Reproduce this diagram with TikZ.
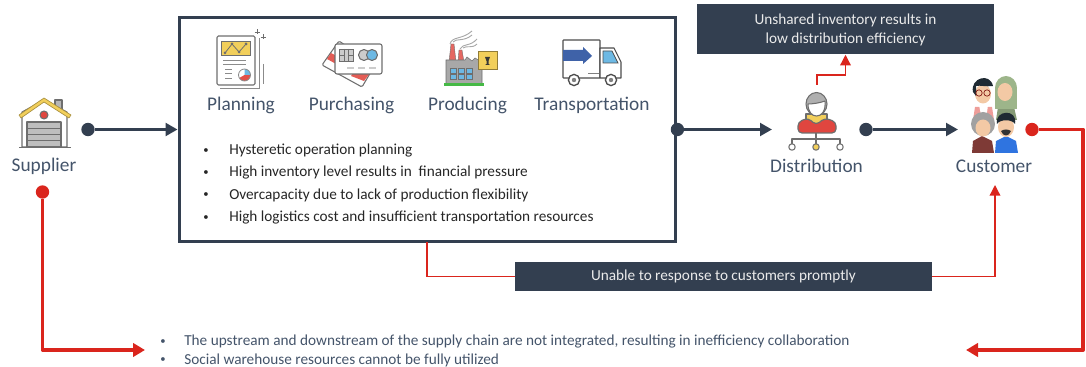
\documentclass[tikz,border=0pt]{standalone}
\usepackage{fontspec}
\setmainfont{Carlito}
\usetikzlibrary{arrows.meta,calc,positioning}
\definecolor{navy}{HTML}{333F50}
\definecolor{slate}{HTML}{44546A}
\definecolor{alarm}{HTML}{DA251D}
\definecolor{iconline}{HTML}{6E6E6E}
\definecolor{sand}{HTML}{F2CF5B}
\definecolor{sky}{HTML}{6DB9E4}
\definecolor{skin}{HTML}{F3C9A5}
\definecolor{truckblue}{HTML}{3F62A8}
\definecolor{sage}{HTML}{9DB58A}
\definecolor{maroon}{HTML}{7E3A36}
\definecolor{shirtblue}{HTML}{2F74E0}
\definecolor{hairdark}{HTML}{1F2A33}
\tikzset{
  label/.style={text=slate,font=\fontsize{14.5}{16}\selectfont,inner sep=0pt},
  bullet/.style={anchor=west,text=black!85,font=\fontsize{11.45}{13}\selectfont,inner sep=0pt},
  note/.style={anchor=west,text=slate,font=\fontsize{11.45}{13}\selectfont,inner sep=0pt},
  banner/.style={fill=navy,text=white!92!black,align=center,inner sep=0pt,font=\fontsize{11.45}{14.2}\selectfont},
  flow/.style={navy,line width=2.6pt,-{Triangle[length=9pt,width=9.5pt]}},
  fault/.style={alarm,line width=2.9pt,line join=round,-{Triangle[length=9pt,width=10pt]}},
  link/.style={alarm,line width=1pt,-{Triangle[length=8pt,width=8pt]}},
  navydot/.style={circle,fill=navy,minimum size=10pt,inner sep=0pt},
  reddot/.style={circle,fill=alarm,minimum size=10pt,inner sep=0pt},
  icon/.style={draw=iconline,line width=0.8pt,line join=round},
  thinicon/.style={draw=iconline!80,line width=0.6pt}
}
\begin{document}
\begin{tikzpicture}[x=0.75pt,y=-0.75pt]
  \useasboundingbox (0,0) rectangle (1086,367);

  \node[draw=navy,line width=2.4pt,minimum width=372.5pt,minimum height=168.5pt,inner sep=0pt] (main) at (427.5,129.5) {};

  \node[label] (supplier) at (44,166) {Supplier};
  \node[label] (planning) at (241,105) {Planning};
  \node[label] (purchasing) at (351.5,105) {Purchasing};
  \node[label] (producing) at (467.5,105) {Producing};
  \node[label] (transportation) at (592,105) {Transportation};
  \node[label] (distribution) at (816.5,166) {Distribution};
  \node[label] (customer) at (994,166) {Customer};

  \foreach \y/\t in {151/Hysteretic operation planning,
                     173/High inventory level results in \ financial pressure,
                     195/Overcapacity due to lack of production flexibility,
                     218/High logistics cost and insufficient transportation resources}
  {
    \node[bullet,font=\fontsize{8}{9}\selectfont] at (203,\y) {•};
    \node[bullet] at (229,\y) {\t};
  }
  \node[note,font=\fontsize{8}{9}\selectfont] at (160,342) {•};
  \node[note] (bottoma) at (184,342) {The upstream and downstream of the supply chain are not integrated, resulting in inefficiency collaboration};
  \node[note,font=\fontsize{8}{9}\selectfont] at (160,360) {•};
  \node[note] (bottomb) at (184,360.5) {Social warehouse resources cannot be fully utilized};

  \node[banner,minimum width=222.75pt,minimum height=37.5pt] (shared) at (845.5,29.5) {Unshared inventory results in\\low distribution efficiency};
  \node[banner,minimum width=312.75pt,minimum height=22pt] (delay) at (723.5,276.5) {Unable to response to customers promptly};

  % ends of the connectors
  \node[navydot] (supout) at (88,129.5) {};
  \node[navydot] (mainout) at (main.east) {};
  \node[navydot] (distout) at (866,129.5) {};
  \node[reddot] (custout) at (1032,129.5) {};
  \node[reddot] (supdown) at (42.5,192) {};
  \coordinate (distin) at (772,129.5);
  \coordinate (custin) at (958,129.5);
  \coordinate (distup) at (817,85);
  \coordinate (mainbrk) at (427,242);
  \coordinate (custup) at (995,185);
  \coordinate (notesleft) at (145,350);
  \coordinate (notesright) at (966,350);

  \draw[flow] (supout) -- (main.west);
  \draw[flow] (mainout) -- (distin);
  \draw[flow] (distout) -- (custin);
  \draw[fault] (supdown) |- (notesleft);
  \draw[fault] (custout) -- (1083,129.5) |- (notesright);
  \draw[link] (distup) -- ++(0,-10) -| (shared.south);
  \draw[alarm,line width=1pt] (mainbrk) |- (delay.west);
  \draw[link] (delay.east) -| (custup);

  % supplier icon
  \draw[icon,fill=iconline!50] (55,100) rectangle (62,110);
  \draw[icon,fill=white] (22,112) -- (22,147) -- (67,147) -- (67,112) -- (44,100) -- cycle;
  \draw[draw=sand!70!black,fill=sand,line width=0.5pt,line join=round] (19,115) -- (44,98) -- (71,115) -- (69,118) -- (44,102) -- (21,118) -- cycle;
  \draw[icon,fill=alarm!85] (44,115) circle (4);
  \draw[icon,fill=iconline!45] (27,122) rectangle (61,147);
  \foreach \y in {128,134,140}
    \draw[icon,line width=0.5pt] (27,\y) -- (61,\y);
  \draw[icon] (19,147.5) -- (71,147.5);

  % planning icon
  \draw[thinicon] (220,88) -- (259,88) -- (259,38);
  \draw[thinicon] (263,64) -- (263,84);
  \draw[icon,fill=white,rounded corners=1pt] (217,36) rectangle (255,85);
  \draw[draw=iconline,fill=sand,line width=0.6pt] (221,41) rectangle (250,55);
  \draw[iconline,line width=0.6pt] (225,53) -- (232,44) -- (239,52) -- (246,44);
  \foreach \x/\y in {225/53,232/44,239/52,246/44}
    \fill[iconline] (\x,\y) circle (1.5);
  \foreach \y in {60,64}
    \draw[thinicon] (223,\y) -- (246,\y);
  \foreach \y in {69,73,78}
    \draw[thinicon] (225,\y) -- (232,\y);
  \fill[white] (244.5,75) circle (6);
  \fill[alarm!80] (244.5,75) -- (250.5,75) arc (0:-150:4.5pt) -- cycle;
  \fill[sky] (244.5,75) -- (244.5,69) arc (90:0:4.5pt) -- cycle;
  \draw[thinicon] (244.5,75) circle (6);
  \foreach \x/\y in {257/32,263/37}
    \draw[iconline,line width=0.7pt] (\x-2.5,\y) -- (\x+2.5,\y) (\x,\y-2.5) -- (\x,\y+2.5);

  % purchasing icon
  \draw[icon,fill=white,rounded corners=1pt] (339,41) -- (322,65) -- (362,87) -- (375,65) -- cycle;
  \fill[alarm!75] (331,53) -- (327,59) -- (338,65) -- (342,59) -- cycle;
  \fill[alarm!75] (355,70) -- (351,76) -- (364,81) -- (370,73) -- cycle;
  \draw[icon,fill=white,rounded corners=1.5pt] (335,44) rectangle (382,74);
  \draw[draw=iconline,fill=iconline!35,line width=0.7pt] (339,49) rectangle (353,61);
  \draw[iconline,line width=0.5pt] (344,49) -- (344,61) (348,49) -- (348,61) (339,55) -- (344,55) (348,55) -- (353,55);
  \draw[icon,fill=iconline!35] (364,55) circle (5.5);
  \draw[icon,fill=sky] (372,55) circle (5.5);
  \foreach \x in {347,358,369}
    \draw[iconline!35,line width=1pt] (\x,68) -- (\x+7,68);

  % producing icon
  \draw[iconline!60,line width=0.7pt] (450,44) .. controls (452,36) and (462,40) .. (472,31);
  \draw[iconline!60,line width=0.7pt] (453,42) .. controls (456,38) and (464,42) .. (472,35);
  \draw[iconline!60,line width=0.7pt] (460,49) .. controls (463,43) and (470,47) .. (477,39);
  \draw[iconline!60,line width=0.7pt] (463,48) .. controls (467,45) and (472,49) .. (477,44);
  \fill[alarm!70,draw=iconline,line width=0.3pt] (449,62) -- (451,44) -- (454,44) -- (456,62) -- cycle;
  \fill[alarm!70,draw=iconline,line width=0.3pt] (458,62) -- (459,50) -- (462,50) -- (464,62) -- cycle;
  \draw[draw=iconline,fill=iconline!60,line width=0.4pt] (446,84) -- (446,60) -- (465,60) -- (467,57) -- (472,61) -- (475,58) -- (482,62) -- (482,84) -- cycle;
  \foreach \x in {450,458,466}
    \foreach \y in {68,74.5}
      \draw[draw=iconline,fill=sky,line width=0.4pt] (\x,\y) rectangle (\x+6,\y+5);
  \fill[green!45!gray] (444,83) rectangle (484,86.5);
  \draw[draw=sand!60!black,fill=sand,line width=0.6pt] (478,51) rectangle (497,69);
  \fill[iconline!50!black] (485,57) -- (490,57) -- (488.5,61) -- (488.5,64) -- (490,65) -- (485,65) -- (486.5,64) -- (486.5,61) -- cycle;

  % transportation icon
  \draw[black!70,fill=white,line width=0.8pt,rounded corners=0.5pt] (563,40) rectangle (600,78);
  \fill[truckblue] (563,50) -- (583,50) -- (583,47) -- (592,56) -- (583,64) -- (583,61) -- (563,61) -- cycle;
  \draw[black!70,fill=white,line width=0.8pt,line join=round] (600,48) -- (614,48) -- (621,62) -- (621,78) -- (600,78) -- cycle;
  \draw[black!70,fill=sky,line width=0.6pt] (603,51) -- (612,51) -- (618,63) -- (603,63) -- cycle;
  \draw[black!50,line width=0.6pt] (588,73) -- (599,73);
  \foreach \x in {574,611}
  {
    \draw[black!70,fill=white,line width=1pt] (\x,80) circle (5.6);
    \fill[black!50] (\x,80) circle (2.2);
  }

  % distribution icon
  \draw[icon,fill=sand] (806,114) rectangle (827,125);
  \draw[icon,line width=0.9pt,fill=alarm!85,rounded corners=3pt] (798,133) -- (798,122) -- (808,118) -- (816,125) -- (825,118) -- (836,122) -- (836,133) -- cycle;
  \draw[icon,fill=iconline!55] (816.5,104) ellipse (10.5 and 11.5);
  \draw[icon,fill=white] (808,104) .. controls (812,104) and (820,103) .. (825,101) .. controls (826,112) and (821,116) .. (816.5,116) .. controls (812,116) and (808,112) .. (808,104) -- cycle;
  \draw[icon] (816,133) -- (816,144) (792,144) -- (792,139) -- (840,139) -- (840,144);
  \draw[icon,fill=white] (792,147) circle (3.2);
  \draw[icon,fill=sand] (816,147) circle (3.2);
  \draw[icon,fill=white] (840,147) circle (3.2);

  % customer icon, back row
  \fill[sage!85!black] (996,120) -- (998,107) -- (1014,107) -- (1017,120) -- cycle;
  \fill[sage] (1006,88) ellipse (11 and 12);
  \fill[sage] (995,88) rectangle (1017,109);
  \fill[skin] (1005,92) ellipse (7.5 and 9);
  \fill[alarm!45] (973,120) -- (975,107) -- (992,107) -- (994,120) -- cycle;
  \fill[white] (979,105) -- (988,105) -- (986,120) -- (982,120) -- cycle;
  \fill[skin] (983,94) ellipse (8 and 9.5);
  \fill[hairdark] (973,92) .. controls (970,78) and (990,72) .. (993,86) .. controls (986,87) and (980,85) .. (976,86) -- (976,96) -- cycle;
  \draw[alarm!60!black,line width=0.5pt] (979,93) circle (3.2) (987,93) circle (3.2);

  % customer icon, front row
  \fill[maroon] (972,153) -- (973,141) -- (982,136) -- (992,141) -- (994,153) -- cycle;
  \fill[shirtblue] (995,153) -- (996,141) -- (1006,136) -- (1016,141) -- (1018,153) -- cycle;
  \fill[iconline!65] (983,124) ellipse (12 and 12);
  \fill[skin] (983,128) ellipse (7.5 and 8.5);
  \fill[skin] (1006,127) ellipse (8 and 10);
  \fill[hairdark] (997,124) .. controls (994,110) and (1018,108) .. (1015,124) .. controls (1012,119) and (1000,119) .. (997,124) -- cycle;
  \fill[black!80] (1001,131) .. controls (1004,129) and (1008,129) .. (1011,131) .. controls (1009,137) and (1003,137) .. (1001,131) -- cycle;
\end{tikzpicture}
\end{document}
